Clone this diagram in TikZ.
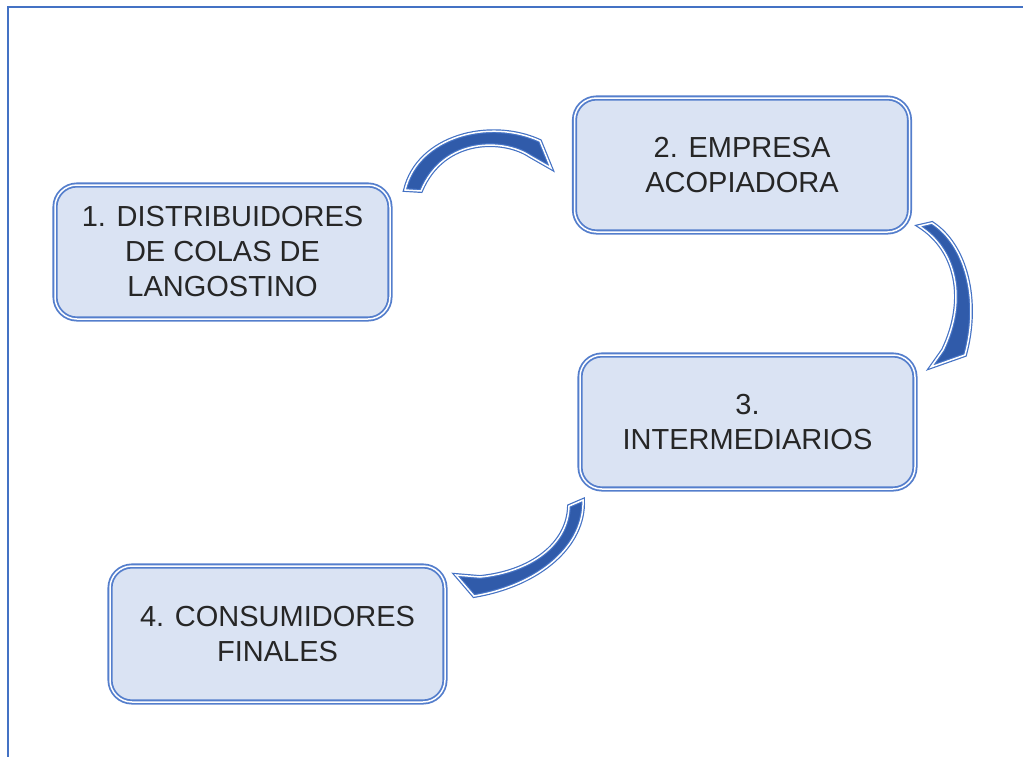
\documentclass[tikz,border=0pt]{standalone}
\usepackage{fontspec}
\setmainfont{Liberation Sans}
\definecolor{boxfill}{RGB}{218,227,243}
\definecolor{boxline}{RGB}{84,126,204}
\definecolor{arrfill}{RGB}{48,91,170}
\definecolor{arrline}{RGB}{68,114,196}
\definecolor{frameblue}{RGB}{68,114,196}
\begin{document}
\begin{tikzpicture}[x=1pt,y=-1pt,
  box/.style={draw=boxline, double=white, line width=1.8pt, double distance=1.5pt,
    fill=boxfill, rounded corners=22pt, minimum width=335pt, minimum height=134pt,
    align=center, inner sep=0pt, text=black!85, font=\fontsize{29}{35}\selectfont},
  blockarrow/.style={draw=arrline, double=white, line width=1.2pt, double distance=1.5pt,
    fill=arrfill, line join=miter}]
\useasboundingbox (0,0) rectangle (1023,756);
\draw[draw=frameblue, line width=2.5pt] (8,760) -- (8,7) -- (1030,7);

\node[box] (b1) at (222.5,252) {1. DISTRIBUIDORES\\DE COLAS DE\\LANGOSTINO};
\node[box] (b2) at (742,165) {2. EMPRESA\\ACOPIADORA};
\node[box] (b3) at (747.5,422) {3.\\INTERMEDIARIOS};
\node[box, minimum height=136pt] (b4) at (277.5,634) {4. CONSUMIDORES\\FINALES};

% curved block arrows
\path[blockarrow] (405,190) .. controls (418,136) and (490,118) .. (540,141)
   -- (551,168) -- (530,156) .. controls (505,139) and (444,136) .. (421,191) -- cycle;
\path[blockarrow] (932,223) .. controls (966,245) and (980,300) .. (965,355)
   -- (931,367) -- (943,350) .. controls (967,300) and (957,250) .. (919,226) -- cycle;
\path[blockarrow] (583,500) .. controls (585,545) and (540,585) .. (474,596)
   -- (456,575) -- (480,577) .. controls (530,572) and (568,545) .. (569,506) -- cycle;
\end{tikzpicture}
\end{document}
